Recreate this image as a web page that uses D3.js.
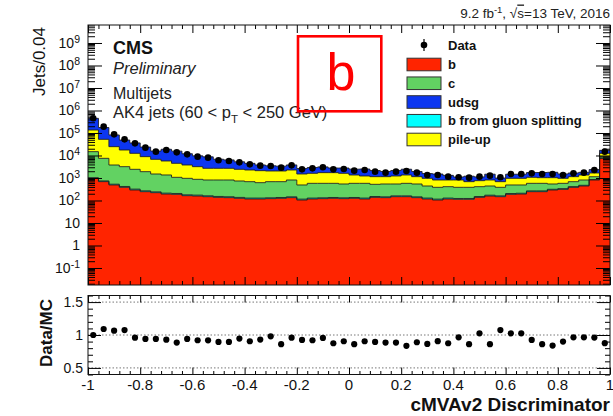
<!DOCTYPE html>
<html lang="en">
<head>
<meta charset="UTF-8">
<title>cMVAv2 Discriminator</title>
<script src="https://cdn.jsdelivr.net/npm/d3@7"></script>
<style>
  body { margin: 0; background: #fff; }
  svg { display: block; font-family: "Liberation Sans", Arial, Helvetica, sans-serif; }
</style>
</head>
<body>
<svg id="chart" width="613" height="416"></svg>
<script>
// 50 bins of width 0.04 between -1 and 1
const xMin = -1, xMax = 1, binWidth = 0.04

// simulated jets per bin, by flavour
const bJets = [970, 690, 490, 385, 293, 247, 223, 194, 188, 164, 158, 148, 138, 134, 125, 117, 117, 121, 125, 134,
  105, 117, 121, 125, 121, 125, 117, 138, 134, 148, 148, 134, 117, 105, 117, 113, 113, 138, 158, 148,
  188, 194, 247, 247, 293, 313, 385, 441, 815, 7480]
const gluonSplit = [60, 50, 40, 35, 27, 23, 20, 18, 17, 15, 15, 14, 13, 13, 12, 11, 11, 11, 11, 12,
  10, 11, 11, 11, 11, 11, 11, 12, 12, 13, 13, 12, 11, 10, 11, 10, 10, 12, 14, 13,
  16, 16, 20, 20, 22, 24, 28, 32, 40, 300]
const cJets = [13800, 6740, 3250, 2770, 2110, 1640, 1260, 1150, 866, 787, 700, 653, 664, 668, 599, 559, 492, 555, 551, 669,
  374, 451, 447, 443, 409, 443, 451, 373, 395, 380, 418, 395, 313, 270, 284, 262, 262, 262, 269, 224,
  285, 279, 312, 312, 226, 242, 274, 342, 288, 1100]
const pileUp = [121000, 44800, 20900, 14370, 10050, 6970, 5250, 4335, 3415, 2816, 2317, 1875, 1875, 1875, 1692, 1581, 1498, 1360, 1360, 1453,
  1017, 1033, 1148, 1148, 1071, 781, 648, 623, 605, 686, 781, 605, 525, 430, 403, 430, 302, 349, 374, 302,
  477, 477, 492, 456, 494, 387, 459, 545, 525, 3600]
const udsgJets = [313000, 123000, 57200, 31100, 23700, 14840, 8990, 13190, 11130, 8210, 6457, 6020, 4125, 3675, 2830, 2208, 1681, 1438, 1301, 1540,
  1119, 1312, 1393, 1048, 1164, 1103, 1279, 990, 804, 933, 1091, 794, 606, 687, 495, 295, 516, 357, 661, 309,
  503, 503, 672, 716, 758, 545, 525, 429, 694, 4440]

// observed jets per bin
const dataCounts = [449000, 191200, 87260, 52310, 34730, 22300, 14810, 17560, 13830, 11270, 8875, 8010, 6100, 5695, 4970, 4050, 3534, 3415, 2880, 3656,
  2428, 2690, 2980, 2428, 2512, 2118, 2268, 1912, 1727, 1912, 2047, 1727, 1360, 1360, 1146, 1071, 1035, 1146, 1270, 1071,
  1506, 1506, 1612, 1506, 1506, 1360, 1612, 1727, 2268, 14810]

// relative MC uncertainty shown in the ratio panel
const mcUnc = [0.01, 0.01, 0.01, 0.01, 0.01, 0.01, 0.01, 0.01, 0.01, 0.01, 0.01, 0.01, 0.01, 0.01, 0.01, 0.01, 0.01, 0.01, 0.01, 0.01,
  0.01, 0.01, 0.01, 0.01, 0.02, 0.02, 0.02, 0.02, 0.02, 0.02, 0.02, 0.025, 0.03, 0.03, 0.03, 0.03, 0.03, 0.03, 0.03, 0.03,
  0.03, 0.03, 0.03, 0.03, 0.03, 0.03, 0.03, 0.03, 0.03, 0.03]

const legendItems = [
  { key: "b", label: "b" },
  { key: "c", label: "c" },
  { key: "udsg", label: "udsg" },
  { key: "gluon", label: "b from gluon splitting" },
  { key: "pileup", label: "pile-up" }
]
const colors = { b: "#ff2400", gluon: "#00ffff", c: "#62d262", pileup: "#ffff00", udsg: "#0c36f0" }

const xMajor = d3.range(11).map(i => xMin + i * 0.2)
const xMinor = d3.range(51).filter(i => i % 5).map(i => xMin + i * binWidth)

const svg = d3.select("#chart")
const left = 88, right = 610
const x = d3.scaleLinear().domain([xMin, xMax]).range([left, right])
const y = d3.scaleLog().domain([10 ** -1.756, 10 ** 9.8]).range([285, 25])
const yr = d3.scaleLinear().domain([0.4, 1.6]).range([374.5, 295.5])
const yFloor = y.domain()[0]

const rows = bJets.map((v, i) => ({
  lo: xMin + i * binWidth,
  b: v, gluon: gluonSplit[i], c: cJets[i], pileup: pileUp[i], udsg: udsgJets[i]
}))
const keys = ["b", "gluon", "c", "pileup", "udsg"]
const series = d3.stack().keys(keys)(rows)
const totals = rows.map((r, i) => series[series.length - 1][i][1])

const stepPoints = s => s.flatMap((d, i) => [
  { x: rows[i].lo, y0: d[0], y1: d[1] },
  { x: rows[i].lo + binWidth, y0: d[0], y1: d[1] }
])
const area = d3.area()
  .x(p => x(p.x))
  .y0(p => y(Math.max(p.y0, yFloor)))
  .y1(p => y(p.y1))
const topLine = d3.line().x(p => x(p.x)).y(p => y(p.y1))

// stacked histograms
const hist = svg.append("g")
series.forEach(s => {
  hist.append("path").attr("d", area(stepPoints(s))).attr("fill", colors[s.key])
})
series.forEach(s => {
  hist.append("path").attr("d", topLine(stepPoints(s)))
    .attr("fill", "none").attr("stroke", "#1a1a1a").attr("stroke-width", 1).attr("stroke-opacity", 0.85)
})

// data points
svg.append("g").selectAll("circle").data(dataCounts).join("circle")
  .attr("cx", (d, i) => x(rows[i].lo + binWidth / 2))
  .attr("cy", d => y(d))
  .attr("r", 3.3)
  .attr("fill", "#000")

// ticks, drawn over the histograms
function ticks(axis, tx, ty) {
  const g = svg.append("g").attr("transform", `translate(${tx},${ty})`).call(axis.tickFormat(""))
  g.select(".domain").remove()
  g.selectAll("line").attr("stroke", "#000")
  return g
}
const decades = d3.range(-1, 10).map(k => 10 ** k)
const logMinor = d3.range(-2, 10)
  .flatMap(k => d3.range(2, 10).map(m => m * 10 ** k))
  .filter(v => v > yFloor && v < y.domain()[1])

ticks(d3.axisLeft(y).tickValues(decades).tickSize(-14), left, 0)
ticks(d3.axisLeft(y).tickValues(logMinor).tickSize(-7), left, 0)
ticks(d3.axisRight(y).tickValues(decades).tickSize(-14), right, 0)
ticks(d3.axisRight(y).tickValues(logMinor).tickSize(-7), right, 0)
ticks(d3.axisTop(x).tickValues(xMajor).tickSize(-8), 0, 25)
ticks(d3.axisTop(x).tickValues(xMinor).tickSize(-4), 0, 25)
ticks(d3.axisBottom(x).tickValues(xMajor).tickSize(-8), 0, 285)
ticks(d3.axisBottom(x).tickValues(xMinor).tickSize(-4), 0, 285)

svg.append("rect").attr("x", left).attr("y", 25).attr("width", right - left).attr("height", 260)
  .attr("fill", "none").attr("stroke", "#111")

// y labels for the log axis
const yLab = svg.append("g").attr("font-size", 14).attr("text-anchor", "end").attr("fill", "#111")
decades.forEach(v => {
  const k = Math.round(Math.log10(v))
  const t = yLab.append("text").attr("x", 80).attr("y", y(v) + 5)
  if (k === 0) t.text("1")
  else if (k === 1) t.text("10")
  else {
    t.append("tspan").text("10")
    t.append("tspan").attr("dy", -5).attr("font-size", 10.5).text(k)
  }
})

svg.append("text").attr("transform", "translate(45,27) rotate(-90)")
  .attr("text-anchor", "end").attr("font-size", 17).attr("fill", "#111").text("Jets/0.04")

// ratio panel
const ratioMajor = [0.5, 1, 1.5]
const ratioMinor = d3.range(4, 17).map(k => k / 10).filter(v => !ratioMajor.includes(v))

svg.append("g").selectAll("line").data(ratioMajor).join("line")
  .attr("x1", left).attr("x2", right)
  .attr("y1", d => yr(d)).attr("y2", d => yr(d))
  .attr("stroke", "#777").attr("stroke-dasharray", "1.5,2")

const ratio = dataCounts.map((d, i) => d / totals[i])
svg.append("g").selectAll("rect").data(ratio).join("rect")
  .attr("x", (d, i) => x(rows[i].lo + binWidth / 2) - 1.5)
  .attr("y", (d, i) => yr(d + mcUnc[i] * d))
  .attr("width", 3)
  .attr("height", (d, i) => yr(d - mcUnc[i] * d) - yr(d + mcUnc[i] * d))
  .attr("fill", "#2a4fe0")
svg.append("g").selectAll("circle").data(ratio).join("circle")
  .attr("cx", (d, i) => x(rows[i].lo + binWidth / 2))
  .attr("cy", d => yr(d))
  .attr("r", 3.1)
  .attr("fill", "#000")

ticks(d3.axisLeft(yr).tickValues(ratioMajor).tickSize(-13), left, 0)
ticks(d3.axisLeft(yr).tickValues(ratioMinor).tickSize(-5), left, 0)
ticks(d3.axisRight(yr).tickValues(ratioMajor).tickSize(-13), right, 0)
ticks(d3.axisRight(yr).tickValues(ratioMinor).tickSize(-5), right, 0)
ticks(d3.axisTop(x).tickValues(xMajor).tickSize(-7), 0, 295.5)
ticks(d3.axisTop(x).tickValues(xMinor).tickSize(-3.5), 0, 295.5)
ticks(d3.axisBottom(x).tickValues(xMajor).tickSize(-7), 0, 374.5)
ticks(d3.axisBottom(x).tickValues(xMinor).tickSize(-3.5), 0, 374.5)

svg.append("rect").attr("x", left).attr("y", 295.5).attr("width", right - left).attr("height", 79)
  .attr("fill", "none").attr("stroke", "#111")

svg.append("g").attr("font-size", 14).attr("text-anchor", "end").attr("fill", "#111")
  .selectAll("text").data(ratioMajor).join("text")
  .attr("x", 83).attr("y", d => yr(d) + 5).text(d => d)

svg.append("g").attr("font-size", 15).attr("text-anchor", "middle").attr("fill", "#111")
  .selectAll("text").data(xMajor).join("text")
  .attr("x", d => x(d)).attr("y", 390).text(d => String(+d.toFixed(1)))

svg.append("text").attr("transform", "translate(52,333) rotate(-90)")
  .attr("text-anchor", "middle").attr("font-size", 17).attr("font-weight", "bold").attr("fill", "#111")
  .text("Data/MC")

svg.append("text").attr("x", 610).attr("y", 411).attr("text-anchor", "end")
  .attr("font-size", 19).attr("font-weight", "bold").attr("fill", "#111").text("cMVAv2 Discriminator")

// header and CMS labels
const head = svg.append("text").attr("x", 610).attr("y", 17.5).attr("text-anchor", "end")
  .attr("font-size", 13.5).attr("fill", "#222")
head.append("tspan").text("9.2 fb")
head.append("tspan").attr("dy", -5).attr("font-size", 9.5).text("-1")
head.append("tspan").attr("dy", 5).text(", √")
head.append("tspan").attr("text-decoration", "overline").text("s")
head.append("tspan").text("=13 TeV, 2016")

svg.append("text").attr("x", 113).attr("y", 53.5).attr("font-size", 18).attr("font-weight", "bold").attr("fill", "#111").text("CMS")
svg.append("text").attr("x", 113).attr("y", 74).attr("font-size", 16.5).attr("font-style", "italic").attr("fill", "#222").text("Preliminary")
svg.append("text").attr("x", 113).attr("y", 99).attr("font-size", 16).attr("fill", "#222").text("Multijets")
const ak4 = svg.append("text").attr("x", 113).attr("y", 118).attr("font-size", 16.5).attr("fill", "#222")
ak4.append("tspan").text("AK4 jets (60 < p")
ak4.append("tspan").attr("dy", 5).attr("font-size", 11.5).text("T")
ak4.append("tspan").attr("dy", -5).text(" < 250 GeV)")

// legend
const legend = svg.append("g").attr("font-size", 13).attr("font-weight", "bold").attr("fill", "#111")
legend.append("line").attr("x1", 424).attr("x2", 424).attr("y1", 39).attr("y2", 51).attr("stroke", "#000").attr("stroke-width", 1.2)
legend.append("circle").attr("cx", 424).attr("cy", 45).attr("r", 3.3).attr("fill", "#000")
legend.append("text").attr("x", 448).attr("y", 49.6).text("Data")
legendItems.forEach((d, i) => {
  const cy = 64.5 + i * 18.75
  legend.append("rect").attr("x", 407).attr("y", cy - 6.3).attr("width", 34).attr("height", 12.6)
    .attr("fill", colors[d.key]).attr("stroke", "#333").attr("stroke-width", 1)
  legend.append("text").attr("x", 448).attr("y", cy + 4.6).text(d.label)
})

// red annotation box
svg.append("rect").attr("x", 298).attr("y", 36.3).attr("width", 83.3).attr("height", 75)
  .attr("fill", "none").attr("stroke", "#ff0000").attr("stroke-width", 2.6)
svg.append("text").attr("x", 341).attr("y", 90).attr("text-anchor", "middle")
  .attr("font-size", 52).attr("fill", "#ff0000").text("b")
</script>
</body>
</html>
